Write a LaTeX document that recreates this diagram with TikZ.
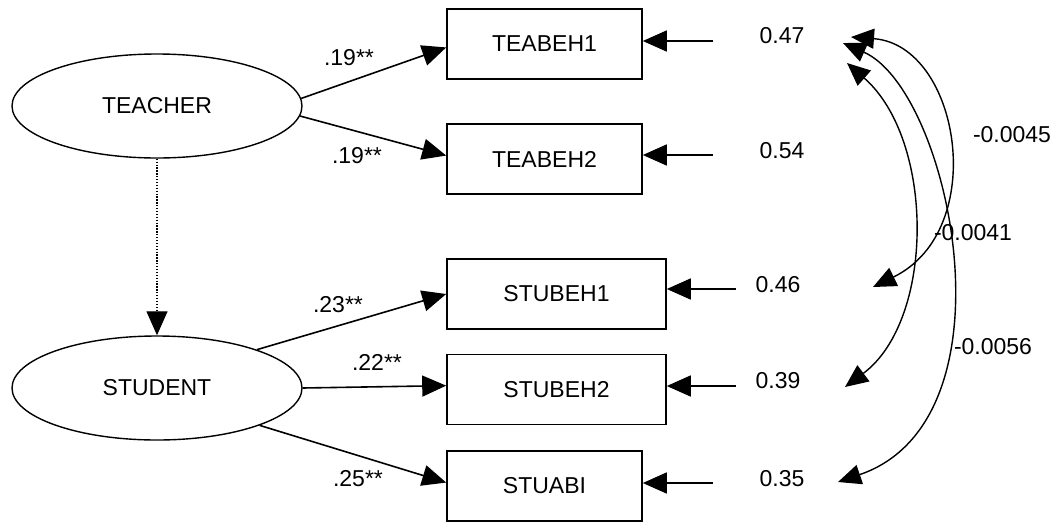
\documentclass[tikz,border=0pt]{standalone}
\usepackage{fontspec}
\setmainfont{Liberation Sans}
\usetikzlibrary{arrows.meta,shapes.geometric}
\begin{document}
\begin{tikzpicture}[x=1pt,y=-1pt,
  font=\fontsize{23}{26}\selectfont,
  latent/.style={draw,ellipse,line width=1.4pt,minimum width=290pt,minimum height=104pt,inner sep=0pt},
  observed/.style={draw,rectangle,line width=1.6pt,minimum height=70pt,inner sep=0pt},
  loading/.style={line width=1.6pt,-{Triangle[length=24pt,width=21pt]}},
  resid/.style={line width=1.6pt,-{Triangle[length=24pt,width=21pt]}},
  cov/.style={line width=1.4pt,{Triangle[length=23pt,width=20pt]}-{Triangle[length=23pt,width=20pt]}},
  lbl/.style={inner sep=0pt}]
\useasboundingbox (0,0) rectangle (1061,523);

% latent variables
\node[latent] (teacher) at (157,106) {TEACHER};
\node[latent] (student) at (157,388) {STUDENT};

% observed indicators
\node[observed,minimum width=195pt] (tea1) at (544.5,44) {TEABEH1};
\node[observed,minimum width=195pt] (tea2) at (544.5,159) {TEABEH2};
\node[observed,minimum width=219pt] (stu1) at (556.5,294) {STUBEH1};
\node[observed,minimum width=219pt] (stu2) at (556.5,389.5) {STUBEH2};
\node[observed,minimum width=195pt] (stua) at (544.5,486) {STUABI};

% structural path
\draw[line width=1.3pt,dash pattern=on 1.3pt off 1.6pt,-{Triangle[length=24pt,width=21pt]}] (teacher.south) -- (student.north);

% factor loadings
\draw[loading] (teacher.3) -- (tea1.182);
\draw[loading] (teacher.-4) -- (tea2.178);
\draw[loading] (student.21) -- (stu1.west);
\draw[loading] (student.east) -- (stu2.178.5);
\draw[loading] (student.-20) -- (stua.178);

\node[lbl] (p1) at (349,58) {.19**};
\node[lbl] (p2) at (357,156) {.19**};
\node[lbl] (p3) at (338,305) {.23**};
\node[lbl] (p4) at (377,362) {.22**};
\node[lbl] (p5) at (358,479) {.25**};

% error terms
\coordinate (e1) at (713,41);
\coordinate (e2) at (713,155);
\coordinate (e3) at (736,289);
\coordinate (e4) at (736,386);
\coordinate (e5) at (713,483);
\draw[resid] (e1) -- (e1 -| tea1.east);
\draw[resid] (e2) -- (e2 -| tea2.east);
\draw[resid] (e3) -- (e3 -| stu1.east);
\draw[resid] (e4) -- (e4 -| stu2.east);
\draw[resid] (e5) -- (e5 -| stua.east);

\node[lbl] (v1) at (782,36) {0.47};
\node[lbl] (v2) at (782,151) {0.54};
\node[lbl] (v3) at (778,285) {0.46};
\node[lbl] (v4) at (778,381) {0.39};
\node[lbl] (v5) at (782,479) {0.35};

% error covariances
\coordinate (ca) at (851,37);
\coordinate (cb) at (847,63);
\coordinate (cc) at (843,43);
\coordinate (da) at (873,287);
\coordinate (db) at (845,387);
\coordinate (dc) at (838,482);
\draw[cov] (ca) .. controls (960,45) and (990,230) .. (da);
\draw[cov] (cb) .. controls (935,140) and (935,320) .. (db);
\draw[cov] (cc) .. controls (950,90) and (1020,420) .. (dc);

\node[lbl] (k1) at (1012,135) {-0.0045};
\node[lbl] (k2) at (973,233) {-0.0041};
\node[lbl] (k3) at (993,347) {-0.0056};
\end{tikzpicture}
\end{document}
